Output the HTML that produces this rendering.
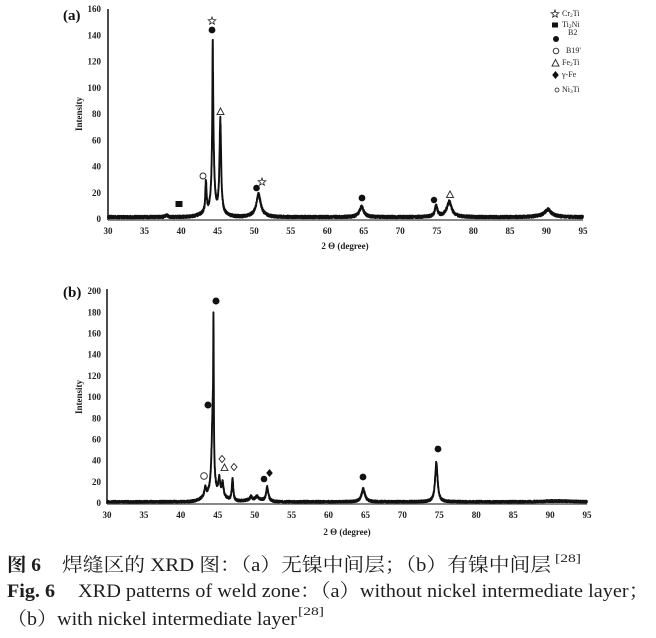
<!DOCTYPE html>
<html><head><meta charset="utf-8">
<style>
html,body{margin:0;padding:0;background:#fff;}
svg{display:block;}
.tk{font-family:"Liberation Serif",serif;font-weight:bold;font-size:9px;fill:#222;}
.lg{font-family:"Liberation Serif",serif;font-size:8px;fill:#222;}
.cap{font-family:"Liberation Serif","Noto Serif CJK SC",serif;fill:#1e1e1e;}
</style></head>
<body>
<svg width="656" height="638" viewBox="0 0 656 638" xmlns="http://www.w3.org/2000/svg">
<defs>
<polygon id="star" points="0,-4 1,-1.38 3.8,-1.24 1.62,0.53 2.35,3.24 0,1.7 -2.35,3.24 -1.62,0.53 -3.8,-1.24 -1,-1.38" fill="#fff" stroke="#222" stroke-width="0.8"/>
<polygon id="tri" points="0,-4 3.5,2.6 -3.5,2.6" fill="#fff" stroke="#222" stroke-width="0.9"/>
<polygon id="dia" points="0,-3.5 3,0 0,3.5 -3,0" fill="#fff" stroke="#222" stroke-width="0.9"/>
<polygon id="fdia" points="0,-4 3.3,0 0,4 -3.3,0" fill="#111"/>
</defs>
<rect width="656" height="638" fill="#fff"/>

<!-- ===== Chart (a) ===== -->
<text x="63" y="20" font-family="Liberation Serif,serif" font-weight="bold" font-size="15" fill="#111">(a)</text>
<line x1="108" y1="9" x2="108" y2="220" stroke="#111" stroke-width="1.5"/>
<line x1="108" y1="220" x2="583" y2="220" stroke="#777" stroke-width="1.8"/>
<g class="tk" text-anchor="end" dominant-baseline="middle">
<text x="101" y="220">0</text><text x="101" y="193.75">20</text><text x="101" y="167.5">40</text>
<text x="101" y="141.25">60</text><text x="101" y="115">80</text><text x="101" y="88.75">100</text>
<text x="101" y="62.5">120</text><text x="101" y="36.25">140</text><text x="101" y="10">160</text>
</g>
<g class="tk" text-anchor="middle" dominant-baseline="middle">
<text x="108" y="232">30</text><text x="144.5" y="232">35</text><text x="181.1" y="232">40</text>
<text x="217.6" y="232">45</text><text x="254.2" y="232">50</text><text x="290.7" y="232">55</text>
<text x="327.2" y="232">60</text><text x="363.8" y="232">65</text><text x="400.3" y="232">70</text>
<text x="436.9" y="232">75</text><text x="473.4" y="232">80</text><text x="510" y="232">85</text>
<text x="546.5" y="232">90</text><text x="583" y="232">95</text>
</g>
<text class="tk" x="345" y="249" text-anchor="middle" font-size="9.5">2 Θ (degree)</text>
<text class="tk" transform="translate(82,114) rotate(-90)" text-anchor="middle" font-size="9.5">Intensity</text>
<path id="pa" d="" fill="none" stroke="#111" stroke-width="1.9" stroke-linejoin="round"/>

<!-- markers (a) -->
<use href="#star" x="212" y="21"/>
<circle cx="212" cy="30" r="3.4" fill="#111"/>
<use href="#tri" x="220.5" y="112"/>
<circle cx="203" cy="176" r="3" fill="#fff" stroke="#222" stroke-width="0.9"/>
<rect x="175.5" y="201" width="7" height="6" fill="#111"/>
<circle cx="256.5" cy="188" r="3.3" fill="#111"/>
<use href="#star" x="262" y="182"/>
<circle cx="362" cy="198" r="3.4" fill="#111"/>
<circle cx="434" cy="200" r="3.2" fill="#111"/>
<use href="#tri" x="450" y="195"/>

<!-- legend -->
<use href="#star" x="555" y="14"/>
<rect x="552" y="22.5" width="6" height="5" fill="#111"/>
<circle cx="556" cy="39" r="3" fill="#111"/>
<circle cx="556" cy="51" r="2.8" fill="#fff" stroke="#222" stroke-width="0.9"/>
<use href="#tri" x="555.5" y="63.5"/>
<use href="#fdia" x="555.5" y="75"/>
<circle cx="557" cy="90" r="2" fill="#fff" stroke="#222" stroke-width="0.8"/>
<g class="lg" dominant-baseline="middle">
<text x="562" y="14">Cr<tspan font-size="5.5" dy="2">2</tspan><tspan dy="-2">Ti</tspan></text>
<text x="562" y="25">Ti<tspan font-size="5.5" dy="2">2</tspan><tspan dy="-2">Ni</tspan></text>
<text x="568" y="33">B2</text>
<text x="566" y="51">B19'</text>
<text x="562" y="63">Fe<tspan font-size="5.5" dy="2">2</tspan><tspan dy="-2">Ti</tspan></text>
<text x="562" y="75">γ-Fe</text>
<text x="562" y="90">Ni<tspan font-size="5.5" dy="2">3</tspan><tspan dy="-2">Ti</tspan></text>
</g>

<!-- ===== Chart (b) ===== -->
<text x="63" y="297" font-family="Liberation Serif,serif" font-weight="bold" font-size="15" fill="#111">(b)</text>
<line x1="107" y1="289" x2="107" y2="504" stroke="#111" stroke-width="1.5"/>
<line x1="107" y1="504" x2="587" y2="504" stroke="#777" stroke-width="1.8"/>
<g class="tk" text-anchor="end" dominant-baseline="middle">
<text x="101" y="504">0</text><text x="101" y="482.8">20</text><text x="101" y="461.6">40</text>
<text x="101" y="440.4">60</text><text x="101" y="419.2">80</text><text x="101" y="398">100</text>
<text x="101" y="376.8">120</text><text x="101" y="355.6">140</text><text x="101" y="334.4">160</text>
<text x="101" y="313.2">180</text><text x="101" y="292">200</text>
</g>
<g class="tk" text-anchor="middle" dominant-baseline="middle">
<text x="107" y="516">30</text><text x="143.9" y="516">35</text><text x="180.8" y="516">40</text>
<text x="217.8" y="516">45</text><text x="254.7" y="516">50</text><text x="291.6" y="516">55</text>
<text x="328.5" y="516">60</text><text x="365.5" y="516">65</text><text x="402.4" y="516">70</text>
<text x="439.3" y="516">75</text><text x="476.2" y="516">80</text><text x="513.2" y="516">85</text>
<text x="550.1" y="516">90</text><text x="587" y="516">95</text>
</g>
<text class="tk" x="347" y="535" text-anchor="middle" font-size="9.5">2 Θ (degree)</text>
<text class="tk" transform="translate(82,397) rotate(-90)" text-anchor="middle" font-size="9.5">Intensity</text>
<path id="pb" d="" fill="none" stroke="#111" stroke-width="1.9" stroke-linejoin="round"/>

<!-- markers (b) -->
<circle cx="216" cy="301" r="3.5" fill="#111"/>
<circle cx="208" cy="405" r="3.5" fill="#111"/>
<circle cx="204" cy="476" r="3.3" fill="#fff" stroke="#222" stroke-width="0.9"/>
<use href="#dia" x="222" y="459"/>
<use href="#tri" x="224.5" y="468"/>
<use href="#dia" x="234" y="467"/>
<circle cx="264" cy="479" r="3.3" fill="#111"/>
<use href="#fdia" x="269.5" y="473"/>
<circle cx="363" cy="477" r="3.4" fill="#111"/>
<circle cx="438" cy="449" r="3.4" fill="#111"/>

<!-- ===== Caption ===== -->
<text class="cap" x="7" y="571" font-size="19" font-weight="bold" textLength="34" lengthAdjust="spacingAndGlyphs">图 6</text>
<text class="cap" x="62" y="571" font-size="19" textLength="489" lengthAdjust="spacingAndGlyphs">焊缝区的 XRD 图：（a）无镍中间层；（b）有镍中间层</text>
<text class="cap" x="555" y="562" font-size="12" textLength="26" lengthAdjust="spacingAndGlyphs">[28]</text>
<text class="cap" x="7" y="597" font-size="19" font-weight="bold" textLength="48" lengthAdjust="spacingAndGlyphs">Fig. 6</text>
<text class="cap" x="78" y="597" font-size="19" textLength="571" lengthAdjust="spacingAndGlyphs">XRD patterns of weld zone：（a）without nickel intermediate layer；</text>
<text class="cap" x="7" y="625" font-size="19" textLength="290" lengthAdjust="spacingAndGlyphs">（b）with nickel intermediate layer</text>
<text class="cap" x="298" y="615" font-size="12" textLength="26" lengthAdjust="spacingAndGlyphs">[28]</text>
</svg>
<script>
function lor(x,c,w){var d=(x-c)/w;return 1/(1+d*d);}
function gau(x,c,w){var d=(x-c)/w;return Math.exp(-d*d/2);}
function fa(x){
 var I=2.2+3.5*gau(x,44.3,1.3)+1.2*gau(x,50.6,1.0)+0.8*gau(x,90,1.5)+0.6*gau(x,76,1.5);
 I+=23*lor(x,43.4,0.1);
 I+=71*lor(x,44.33,0.05);
 I+=62*lor(x,44.36,0.17);
 I+=70*lor(x,45.37,0.13);
 I+=16*lor(x,50.6,0.35);
 I+=8*lor(x,64.7,0.35);
 I+=8*lor(x,74.9,0.2);
 I+=11*lor(x,76.7,0.4);
 I+=5*lor(x,90.2,0.5);
 I+=1.5*lor(x,38,0.2);
 return I;
}
function fb(x){
 var I=2.0+7*gau(x,44.5,1.2)+2*gau(x,50,1.2)+0.8*gau(x,91,2);
 I+=8*lor(x,43.3,0.15);
 I+=124*lor(x,44.42,0.045);
 I+=68*lor(x,44.3,0.17);
 I+=14*lor(x,45.2,0.15);
 I+=12*lor(x,45.65,0.15);
 I+=20*lor(x,47.0,0.12);
 I+=3*lor(x,49.5,0.15)+3*lor(x,50.3,0.2);
 I+=13*lor(x,51.7,0.18);
 I+=12*lor(x,64.7,0.28);
 I+=37*lor(x,74.6,0.2);
 return I;
}
function build(id,f,x0,sx,y0,sy,seed,na){
 var s=seed;function r(){s=(s*16807)%2147483647;return s/2147483647;}
 var pts=[];
 for(var i=0;i<=5416;i++){var x=30+i*0.012;if(x>95)break;
  var I=f(x);var n=(r()-0.5)*2*(na+0.025*I);
  pts.push((x0+(x-30)*sx).toFixed(2)+','+(y0-(I+n)*sy).toFixed(2));}
 document.getElementById(id).setAttribute('d','M'+pts.join('L'));
}
build('pa',fa,108,475/65,220,1.3125,12345,1.0);
build('pb',fb,107,480/65,504,1.06,67891,1.0);
</script>
</body></html>
